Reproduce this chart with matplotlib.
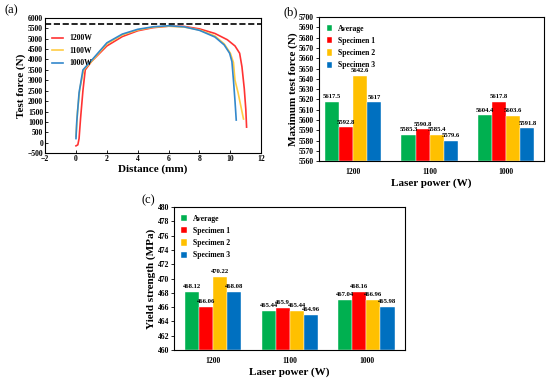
import matplotlib.pyplot as plt
import numpy as np

plt.rcParams['font.family'] = ['Liberation Serif', 'DejaVu Serif']
plt.rcParams['font.weight'] = 'bold'
plt.rcParams['axes.labelweight'] = 'bold'

# (a) force-distance curves
d_1200 = [0.0, 0.12, 0.2, 0.3, 0.45, 0.6, 1.0, 2.0, 3.0, 4.0, 5.0, 6.0, 7.0, 8.0, 9.0, 9.8, 10.3, 10.6, 10.75, 10.9, 11.0, 11.05]
f_1200 = [-150, -100, 200, 1200, 2500, 3500, 3900, 4650, 5100, 5380, 5530, 5600, 5590, 5470, 5250, 4950, 4650, 4300, 3650, 2600, 1600, 750]
d_1100 = [0.0, 0.1, 0.25, 0.5, 1.0, 2.0, 3.0, 4.0, 5.0, 6.0, 7.0, 8.0, 9.0, 9.6, 10.0, 10.2, 10.3, 10.5, 10.85]
f_1100 = [300, 1500, 2600, 3500, 3900, 4750, 5180, 5420, 5550, 5600, 5560, 5420, 5130, 4750, 4300, 3850, 3000, 2400, 1140]
d_1000 = [0.0, 0.05, 0.2, 0.45, 1.0, 2.0, 3.0, 4.0, 5.0, 6.0, 7.0, 8.0, 9.0, 9.6, 9.95, 10.1, 10.2, 10.3, 10.38]
f_1000 = [200, 1000, 2400, 3500, 3950, 4800, 5220, 5450, 5570, 5620, 5570, 5400, 5080, 4700, 4300, 3900, 3000, 2000, 1090]
limit_force = 5700

# (b) and (c) bar data
powers = ['1200', '1100', '1000']
series = ['Average', 'Specimen 1', 'Specimen 2', 'Specimen 3']
max_force = [
    [5617.5, 5585.3, 5604.4],
    [5592.8, 5590.8, 5617.8],
    [5642.6, 5585.4, 5603.6],
    [5617, 5579.6, 5591.8],
]
yield_strength = [
    [468.12, 465.44, 467.04],
    [466.06, 465.9, 468.16],
    [470.22, 465.44, 466.96],
    [468.08, 464.96, 465.98],
]
bar_colors = ['#00B050', '#FF0000', '#FFC000', '#0070C0']

fig = plt.figure(figsize=(5.5, 3.8), dpi=100)

# ---- panel (a)
ax = fig.add_axes([0.082, 0.597, 0.393, 0.356])
ax.plot(d_1200, f_1200, color='#ff3333', lw=1.2, label='1200W')
ax.plot(d_1100, f_1100, color='#ffcc44', lw=1.2, label='1100W')
ax.plot(d_1000, f_1000, color='#3388cc', lw=1.2, label='1000W')
ax.axhline(limit_force, color='black', ls='--', lw=1.2)
ax.set_xlim(-2, 12)
ax.set_ylim(-500, 6000)
ax.set_xticks(range(-2, 13, 2))
ax.set_yticks(range(-500, 6001, 500))
ax.set_xlabel('Distance (mm)', fontsize=8, labelpad=1)
ax.set_ylabel('Test force (N)', fontsize=8, labelpad=1)
ax.tick_params(labelsize=5.5, length=2, width=0.6, pad=1.5, direction='in')
ax.legend(loc='upper left', bbox_to_anchor=(0.0, 0.93), frameon=False, fontsize=5.5,
          handlelength=1.5, labelspacing=0.6)

def bar_panel(ax, data, ylim, yticks, ylabel):
    x = np.arange(len(powers))
    w = 0.183
    for i, (vals, c) in enumerate(zip(data, bar_colors)):
        pos = x + (i - 1.5) * w
        ax.bar(pos, np.array(vals) - ylim[0], w, bottom=ylim[0], color=c,
               edgecolor='white', linewidth=0.3, label=series[i])
        for p, v in zip(pos, vals):
            ax.annotate(f'{v:g}', (p, v), xytext=(0, 2), textcoords='offset points',
                        ha='center', va='bottom', fontsize=4.8)
    ax.set_xticks(x)
    ax.set_xticklabels(powers)
    ax.set_ylim(*ylim)
    ax.set_yticks(yticks)
    ax.set_xlabel('Laser power (W)', fontsize=8, labelpad=2)
    ax.set_ylabel(ylabel, fontsize=8, labelpad=1)
    ax.tick_params(labelsize=5.5, length=2, width=0.6, pad=1.5)
    ax.tick_params(axis='x', length=0, pad=5)
    ax.legend(loc='upper left', frameon=False, fontsize=5.5, handlelength=0.7,
              handleheight=0.9, labelspacing=0.55, borderaxespad=0.6)

# ---- panel (b)
axb = fig.add_axes([0.58, 0.576, 0.409, 0.379])
bar_panel(axb, max_force, (5560, 5700), range(5560, 5701, 10), 'Maximum test force (N)')
axb.set_xlim(-0.44, 2.49)

# ---- panel (c)
axc = fig.add_axes([0.316, 0.079, 0.42, 0.376])
bar_panel(axc, yield_strength, (460, 480), range(460, 481, 2), 'Yield strength (MPa)')
axc.set_xlim(-0.513, 2.5)

fig.text(0.008, 0.965, '(a)', fontsize=9, weight='normal')
fig.text(0.515, 0.96, '(b)', fontsize=9, weight='normal')
fig.text(0.258, 0.465, '(c)', fontsize=9, weight='normal')

fig.savefig('out.png', dpi=100)
